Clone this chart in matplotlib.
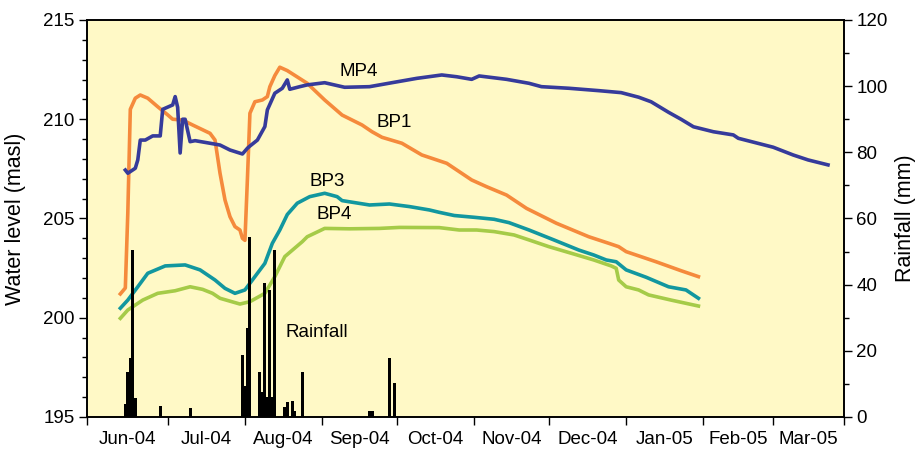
import numpy as np
import pandas as pd
import matplotlib
matplotlib.use("Agg")
import matplotlib.pyplot as plt
import matplotlib.dates as mdates
from matplotlib.ticker import MultipleLocator

plt.rcParams['font.family'] = ['Liberation Sans', 'DejaVu Sans']

# water levels (masl)
mp4_dates = ['2004-06-14', '2004-06-15', '2004-06-18', '2004-06-19', '2004-06-20', '2004-06-22',
             '2004-06-25', '2004-06-28', '2004-06-29', '2004-07-03', '2004-07-04', '2004-07-05',
             '2004-07-06', '2004-07-07', '2004-07-08', '2004-07-10', '2004-07-12', '2004-07-18',
             '2004-07-22', '2004-07-26', '2004-07-31', '2004-08-02', '2004-08-03', '2004-08-06',
             '2004-08-09', '2004-08-10', '2004-08-13', '2004-08-16', '2004-08-18', '2004-08-19',
             '2004-08-23', '2004-08-26', '2004-09-02', '2004-09-10', '2004-09-20', '2004-09-29',
             '2004-10-09', '2004-10-19', '2004-10-25', '2004-10-31', '2004-11-03', '2004-11-14',
             '2004-11-23', '2004-11-28', '2004-12-09', '2004-12-21', '2004-12-30', '2005-01-06',
             '2005-01-11', '2005-01-18', '2005-01-23', '2005-01-28', '2005-02-05', '2005-02-13',
             '2005-02-15', '2005-03-01', '2005-03-09', '2005-03-15', '2005-03-23']
mp4 = [207.44, 207.28, 207.53, 207.95, 208.95, 208.95, 209.16, 209.16, 210.50, 210.72, 211.14, 210.6,
       208.3, 210.0, 210.0, 208.87, 208.92, 208.79, 208.70, 208.45, 208.25, 208.54, 208.65, 208.95,
       209.63, 210.47, 211.31, 211.56, 211.98, 211.51, 211.64, 211.73, 211.84, 211.61, 211.64, 211.84,
       212.06, 212.23, 212.14, 212.01, 212.18, 212.01, 211.81, 211.64, 211.56, 211.44, 211.34, 211.11,
       210.88, 210.35, 210.0, 209.62, 209.37, 209.21, 209.04, 208.59, 208.2, 207.95, 207.7]

bp1_dates = ['2004-06-12', '2004-06-14', '2004-06-15', '2004-06-16', '2004-06-18', '2004-06-20',
             '2004-06-23', '2004-06-27', '2004-07-01', '2004-07-03', '2004-07-07', '2004-07-11',
             '2004-07-18', '2004-07-20', '2004-07-22', '2004-07-24', '2004-07-26', '2004-07-28',
             '2004-07-30', '2004-07-31', '2004-08-01', '2004-08-02', '2004-08-03', '2004-08-05',
             '2004-08-08', '2004-08-10', '2004-08-11', '2004-08-13', '2004-08-15', '2004-08-18',
             '2004-08-26', '2004-09-02', '2004-09-09', '2004-09-17', '2004-09-21', '2004-09-25',
             '2004-10-03', '2004-10-11', '2004-10-21', '2004-10-31', '2004-11-06', '2004-11-14',
             '2004-11-22', '2004-12-04', '2004-12-17', '2004-12-25', '2004-12-29', '2005-01-01',
             '2005-01-13', '2005-01-23', '2005-01-30']
bp1 = [201.2, 201.5, 205.3, 210.5, 211.06, 211.22, 211.06, 210.63, 210.22, 210.0, 209.96, 209.71,
       209.29, 208.95, 207.28, 205.93, 205.09, 204.59, 204.42, 204.0, 203.9, 207.0, 210.3, 210.88,
       210.97, 211.14, 211.64, 212.2, 212.62, 212.45, 211.81, 210.97, 210.21, 209.71, 209.37, 209.09,
       208.79, 208.2, 207.78, 206.94, 206.6, 206.18, 205.51, 204.76, 204.08, 203.75, 203.58, 203.33,
       202.82, 202.37, 202.07]

bp3_dates = ['2004-06-12', '2004-06-15', '2004-06-19', '2004-06-23', '2004-06-30', '2004-07-08',
             '2004-07-14', '2004-07-20', '2004-07-24', '2004-07-28', '2004-08-01', '2004-08-05',
             '2004-08-09', '2004-08-12', '2004-08-15', '2004-08-18', '2004-08-22', '2004-08-27',
             '2004-09-02', '2004-09-07', '2004-09-09', '2004-09-20', '2004-09-28', '2004-10-06',
             '2004-10-14', '2004-10-18', '2004-10-24', '2004-11-01', '2004-11-09', '2004-11-15',
             '2004-11-23', '2004-12-03', '2004-12-13', '2004-12-19', '2004-12-24', '2004-12-28',
             '2005-01-01', '2005-01-09', '2005-01-18', '2005-01-25', '2005-01-30']
bp3 = [200.48, 200.89, 201.56, 202.24, 202.61, 202.66, 202.41, 201.9, 201.48, 201.23, 201.4, 202.07,
       202.74, 203.75, 204.42, 205.2, 205.77, 206.1, 206.27, 206.1, 205.9, 205.68, 205.73, 205.6,
       205.43, 205.31, 205.15, 205.06, 204.96, 204.79, 204.42, 203.92, 203.41, 203.16, 202.91, 202.82,
       202.41, 202.04, 201.56, 201.4, 200.98]

bp4_dates = ['2004-06-12', '2004-06-15', '2004-06-21', '2004-06-27', '2004-07-04', '2004-07-10',
             '2004-07-15', '2004-07-19', '2004-07-22', '2004-07-30', '2004-08-03', '2004-08-09',
             '2004-08-13', '2004-08-17', '2004-08-24', '2004-08-26', '2004-09-02', '2004-09-12',
             '2004-09-24', '2004-10-02', '2004-10-18', '2004-10-26', '2004-11-02', '2004-11-09',
             '2004-11-17', '2004-11-23', '2004-12-01', '2004-12-11', '2004-12-19', '2004-12-26',
             '2004-12-28', '2004-12-29', '2005-01-01', '2005-01-06', '2005-01-10', '2005-01-19',
             '2005-01-30']
bp4 = [199.97, 200.39, 200.89, 201.23, 201.36, 201.56, 201.43, 201.23, 200.98, 200.69, 200.81, 201.23,
       202.07, 203.08, 203.83, 204.08, 204.5, 204.48, 204.5, 204.55, 204.54, 204.42, 204.42, 204.34,
       204.17, 203.92, 203.58, 203.21, 202.91, 202.61, 202.49, 201.9, 201.56, 201.4, 201.15, 200.89,
       200.59]

# daily rainfall (mm)
rain_dates = ['2004-06-14', '2004-06-15', '2004-06-16', '2004-06-17', '2004-06-18', '2004-06-28',
              '2004-07-10', '2004-07-31', '2004-08-01', '2004-08-02', '2004-08-03', '2004-08-07',
              '2004-08-08', '2004-08-09', '2004-08-10', '2004-08-11', '2004-08-12', '2004-08-13',
              '2004-08-17', '2004-08-18', '2004-08-20', '2004-08-21', '2004-08-24', '2004-09-20',
              '2004-09-21', '2004-09-28', '2004-09-30']
rain = [3.9, 13.7, 17.8, 50.5, 5.6, 3.3, 2.8, 18.7, 9.5, 26.8, 54.5, 13.7, 7.5, 40.6, 6.0, 38.4, 6.0,
        50.5, 2.9, 4.6, 4.9, 1.9, 13.7, 1.9, 1.9, 17.7, 10.4]

month_labels = ['Jun-04', 'Jul-04', 'Aug-04', 'Sep-04', 'Oct-04', 'Nov-04',
                'Dec-04', 'Jan-05', 'Feb-05', 'Mar-05']
month_starts = ['2004-07-01', '2004-08-01', '2004-09-01', '2004-10-01', '2004-11-01',
                '2004-12-01', '2005-01-01', '2005-02-01', '2005-03-01']


def d2n(lst):
    return mdates.date2num(pd.to_datetime(lst))


fig = plt.figure(figsize=(9.15, 4.51), dpi=100)
ax = fig.add_axes([0.0951, 0.0754, 0.8273, 0.8803])
ax.set_facecolor('#FFF9C6')
ax2 = ax.twinx()
ax2.xaxis.set_visible(False)

ax.plot(d2n(bp4_dates), bp4, color='#A5CB48', lw=2.6, solid_joinstyle='round')
ax.plot(d2n(bp3_dates), bp3, color='#12979F', lw=2.6, solid_joinstyle='round')
ax.plot(d2n(bp1_dates), bp1, color='#F58A3C', lw=2.6, solid_joinstyle='round')
ax.plot(d2n(mp4_dates), mp4, color='#363B9B', lw=2.6, solid_joinstyle='round')

ax2.bar(d2n(rain_dates), rain, width=1.2, color='black')

# x axis: ticks at month boundaries, labels centred in between
x0 = d2n(['2004-05-29 15:00'])[0]
x1 = d2n(['2005-03-29 10:00'])[0]
ax.set_xlim(x0, x1)
bounds = np.concatenate([[x0], d2n(month_starts), [x1]])
mids = (bounds[:-1] + bounds[1:]) / 2
ax.xaxis.set_ticks_position('bottom')
ax.set_xticks(bounds)
ax.set_xticklabels([])
ax.set_xticks(mids, month_labels, minor=True)
ax.tick_params(axis='x', which='major', direction='out', length=6, width=1)
ax.tick_params(axis='x', which='minor', length=0, pad=10, labelsize=13.5)

ax.set_ylim(195, 215)
ax.yaxis.set_major_locator(MultipleLocator(5))
ax.yaxis.set_minor_locator(MultipleLocator(1))
ax.tick_params(axis='y', which='major', direction='out', length=6, width=1, labelsize=13.5, pad=3)
ax.tick_params(axis='y', which='minor', direction='out', length=3.5, width=1)

ax2.set_ylim(0, 120)
ax2.yaxis.set_major_locator(MultipleLocator(20))
ax2.yaxis.set_minor_locator(MultipleLocator(10))
ax2.tick_params(axis='y', which='major', direction='out', length=6, width=1, labelsize=13.5, pad=3)
ax2.tick_params(axis='y', which='minor', direction='out', length=3.5, width=1)

for a in (ax, ax2):
    for s in a.spines.values():
        s.set_linewidth(1.2)

ax.set_ylabel('Water level (masl)', fontsize=15.5)
ax.yaxis.set_label_coords(-0.08, 0.5)
ax2.set_ylabel('Rainfall (mm)', fontsize=15.5)
ax2.yaxis.set_label_coords(1.068, 0.5)

# series labels
ax.text(0.359, 0.869, 'MP4', transform=ax.transAxes, ha='center', va='center', fontsize=13.5)
ax.text(0.406, 0.741, 'BP1', transform=ax.transAxes, ha='center', va='center', fontsize=13.5)
ax.text(0.317, 0.592, 'BP3', transform=ax.transAxes, ha='center', va='center', fontsize=13.5)
ax.text(0.327, 0.509, 'BP4', transform=ax.transAxes, ha='center', va='center', fontsize=13.5)
ax.text(0.303, 0.212, 'Rainfall', transform=ax.transAxes, ha='center', va='center', fontsize=13.5)

fig.savefig('out.png', dpi=100)
